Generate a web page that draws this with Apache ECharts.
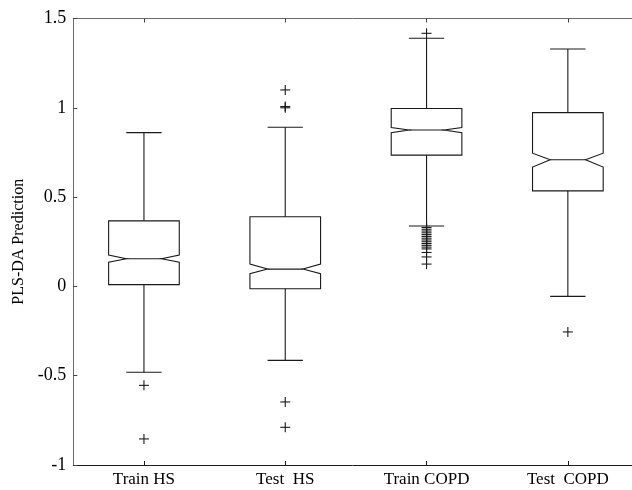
<!DOCTYPE html>
<html>
<head>
<meta charset="utf-8">
<script src="https://cdn.jsdelivr.net/npm/echarts@6/dist/echarts.min.js"></script>
<style>
html, body { margin: 0; padding: 0; background: #fff; }
#main { width: 632px; height: 490px; }
</style>
</head>
<body>
<div id="main"></div>
<script>
// 箱线图数据
var categories = ['Train HS', 'Test  HS', 'Train COPD', 'Test  COPD'];
var catPos = [0, 1, 2, 3];
var whiskerLow = [-0.481, -0.414, 0.338, -0.056];
var q1 = [0.010, -0.013, 0.735, 0.535];
var notchLow = [0.136, 0.071, 0.861, 0.668];
var median = [0.155, 0.097, 0.876, 0.709];
var notchHigh = [0.176, 0.125, 0.889, 0.746];
var q3 = [0.367, 0.390, 0.996, 0.973];
var whiskerHigh = [0.861, 0.891, 1.389, 1.329];
var outTrainHS = [-0.554, -0.854];
var outTestHS = [1.100, 1.007, 1.000, -0.647, -0.789];
var outTrainCOPD = [1.417, 0.33, 0.32, 0.31, 0.30, 0.29, 0.28, 0.27, 0.26, 0.25, 0.24, 0.23, 0.22, 0.21, 0.19, 0.165, 0.125];
var outTestCOPD = [-0.255];

var lineColor = '#1a1a1a';
var fontFam = '"Liberation Serif", "DejaVu Serif", serif';

var boxData = [];
for (var i = 0; i < categories.length; i++) {
	boxData.push([catPos[i], whiskerLow[i], q1[i], notchLow[i], median[i], notchHigh[i], q3[i], whiskerHigh[i]]);
}
var outData = [];
[outTrainHS, outTestHS, outTrainCOPD, outTestCOPD].forEach(function(arr, i) {
	arr.forEach(function(v) { outData.push([catPos[i], v]); });
});

//画带缺口的箱子
function renderBox(params, api) {
	var idx = api.value(0);
	var band = api.size([1, 0])[0];
	var hw = band * 0.25, cw = band * 0.125;
	var x = api.coord([idx, 0])[0];
	var yWl = api.coord([idx, api.value(1)])[1];
	var yQ1 = api.coord([idx, api.value(2)])[1];
	var yNl = api.coord([idx, api.value(3)])[1];
	var yMd = api.coord([idx, api.value(4)])[1];
	var yNh = api.coord([idx, api.value(5)])[1];
	var yQ3 = api.coord([idx, api.value(6)])[1];
	var yWh = api.coord([idx, api.value(7)])[1];
	var st = { stroke: lineColor, lineWidth: 1.1, fill: null };
	return {
		type: 'group',
		children: [
			{ type: 'polygon', shape: { points: [
				[x - hw, yQ1], [x - hw, yNl], [x - hw / 2, yMd], [x - hw, yNh], [x - hw, yQ3],
				[x + hw, yQ3], [x + hw, yNh], [x + hw / 2, yMd], [x + hw, yNl], [x + hw, yQ1]
			] }, style: st },
			{ type: 'line', shape: { x1: x - hw / 2, y1: yMd, x2: x + hw / 2, y2: yMd }, style: st },
			{ type: 'line', shape: { x1: x, y1: yQ3, x2: x, y2: yWh }, style: st },
			{ type: 'line', shape: { x1: x, y1: yQ1, x2: x, y2: yWl }, style: st },
			{ type: 'line', shape: { x1: x - cw, y1: yWh, x2: x + cw, y2: yWh }, style: st },
			{ type: 'line', shape: { x1: x - cw, y1: yWl, x2: x + cw, y2: yWl }, style: st }
		]
	};
}

//离群点画 +
function renderPlus(params, api) {
	var p = api.coord([api.value(0), api.value(1)]);
	var s = 5;
	var st = { stroke: lineColor, lineWidth: 1.1 };
	return {
		type: 'group',
		children: [
			{ type: 'line', shape: { x1: p[0] - s, y1: p[1], x2: p[0] + s, y2: p[1] }, style: st },
			{ type: 'line', shape: { x1: p[0], y1: p[1] - s, x2: p[0], y2: p[1] + s }, style: st }
		]
	};
}

// x轴范围：左边 -0.5，右边被图片裁掉
var xMin = -0.5, xMax = 3.454;

var option = {
	animation: false,
	backgroundColor: '#fff',
	grid: { left: 73.3, right: 0, top: 18.5, bottom: 25 },
	xAxis: [{
		type: 'value',
		min: xMin,
		max: xMax,
		position: 'bottom',
		axisLine: { onZero: false, lineStyle: { color: lineColor, width: 1 } },
		axisTick: { inside: true, length: 4, customValues: catPos, lineStyle: { color: lineColor } },
		axisLabel: {
			color: '#000', fontSize: 17, fontFamily: fontFam, margin: 6,
			customValues: catPos,
			formatter: function(v) { return categories[Math.round(v)]; }
		},
		splitLine: { show: false }
	}, {
		type: 'value',
		min: xMin,
		max: xMax,
		position: 'top',
		axisLine: { onZero: false, lineStyle: { color: '#6a6a6a', width: 1 } },
		axisTick: { inside: true, length: 4, customValues: catPos, lineStyle: { color: '#444' } },
		axisLabel: { show: false },
		splitLine: { show: false }
	}],
	yAxis: {
		type: 'value',
		min: -1,
		max: 1.5,
		interval: 0.5,
		name: 'PLS-DA Prediction',
		nameLocation: 'middle',
		nameGap: 39,
		nameTextStyle: { color: '#000', fontSize: 16, fontFamily: fontFam },
		axisLine: { show: true, onZero: false, lineStyle: { color: '#6a6a6a', width: 1 } },
		axisTick: { show: true, inside: true, length: 4, lineStyle: { color: '#444' } },
		axisLabel: { color: '#000', fontSize: 18, fontFamily: fontFam, margin: 7 },
		splitLine: { show: false }
	},
	series: [{
		type: 'custom',
		renderItem: renderBox,
		encode: { x: 0, y: [1, 2, 3, 4, 5, 6, 7] },
		data: boxData
	}, {
		type: 'custom',
		renderItem: renderPlus,
		encode: { x: 0, y: 1 },
		data: outData
	}]
};

var myChart = echarts.init(document.getElementById('main'));
myChart.setOption(option);
</script>
</body>
</html>
